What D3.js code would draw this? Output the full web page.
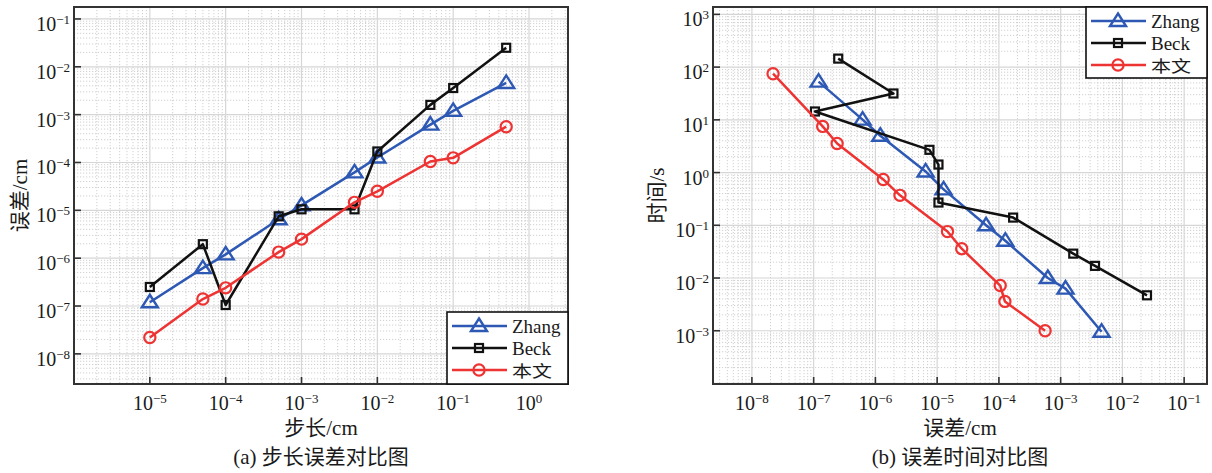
<!DOCTYPE html>
<html><head><meta charset="utf-8">
<script src="https://cdn.jsdelivr.net/npm/d3@7"></script>
<style>
body{margin:0;background:#fff}
text{font-family:"Liberation Serif","Times New Roman","Noto Sans CJK SC",serif;fill:#1a1a1a}
</style>
</head><body><svg id="c" width="1212" height="473"></svg>
<script>
// ---------- data ----------
const seriesNames = ["Zhang", "Beck", "本文"];
const stepSizes = [1e-5, 5e-5, 1e-4, 5e-4, 1e-3, 5e-3, 1e-2, 5e-2, 1e-1, 5e-1];
const zhangErr = [1.2e-7, 6.2e-7, 1.2e-6, 6.5e-6, 1.27e-5, 6.2e-5, 1.27e-4, 6.2e-4, 1.2e-3, 4.6e-3];
const beckErr  = [2.5e-7, 1.96e-6, 1.05e-7, 7.5e-6, 1.05e-5, 1.05e-5, 1.7e-4, 1.6e-3, 3.6e-3, 2.5e-2];
const oursErr  = [2.2e-8, 1.4e-7, 2.4e-7, 1.34e-6, 2.5e-6, 1.47e-5, 2.5e-5, 1.05e-4, 1.25e-4, 5.6e-4];
const zhangTime = [53, 10.1, 5.0, 1.05, 0.48, 0.10, 0.051, 0.010, 0.0063, 0.00096];
const beckTime  = [145, 31.6, 14.4, 2.7, 1.42, 0.27, 0.14, 0.029, 0.017, 0.0047];
const oursTime  = [75, 7.5, 3.55, 0.74, 0.37, 0.076, 0.036, 0.0072, 0.0036, 0.001];
const leftXTicks = [-5, -4, -3, -2, -1, 0];
const leftYTicks = [-8, -7, -6, -5, -4, -3, -2, -1];
const rightXTicks = [-8, -7, -6, -5, -4, -3, -2, -1];
const rightYTicks = [-3, -2, -1, 0, 1, 2, 3];

const colors = ["#2d58b4", "#111111", "#ee3333"];
const markers = ["tri", "sq", "circ"];

const svg = d3.select("#c");

function drawMarker(g, type, x, y, color) {
  if (type === "tri") {
    g.append("path").attr("d", `M${x},${y-7.5}L${x+8},${y+5}L${x-8},${y+5}Z`)
      .attr("fill", "none").attr("stroke", color).attr("stroke-width", 2.4).attr("stroke-linejoin", "miter");
  } else if (type === "sq") {
    g.append("rect").attr("x", x-4).attr("y", y-4).attr("width", 8).attr("height", 8)
      .attr("fill", "none").attr("stroke", color).attr("stroke-width", 2.2);
  } else {
    g.append("circle").attr("cx", x).attr("cy", y).attr("r", 5.6)
      .attr("fill", "none").attr("stroke", color).attr("stroke-width", 2.2);
  }
}
function expStr(e) { return e < 0 ? "\u2212" + (-e) : "" + e; }

function panel(cfg) {
  const {x0, x1, y0, y1, xDom, yDom, xTicks, yTicks, series, xLabel, yLabel, caption, legend, clipId} = cfg;
  const x = d3.scaleLog().domain(xDom).range([x0, x1]);
  const y = d3.scaleLog().domain(yDom).range([y1, y0]);
  const g = svg.append("g");
  g.append("clipPath").attr("id", clipId).append("rect")
    .attr("x", x0).attr("y", y0).attr("width", x1 - x0).attr("height", y1 - y0);
  const grid = g.append("g").attr("clip-path", `url(#${clipId})`);
  const lx = [Math.floor(Math.log10(xDom[0])), Math.ceil(Math.log10(xDom[1]))];
  const ly = [Math.floor(Math.log10(yDom[0])), Math.ceil(Math.log10(yDom[1]))];
  for (let e = lx[0]; e <= lx[1]; e++) for (let m = 2; m <= 9; m++) {
    const v = m * Math.pow(10, e);
    if (v <= xDom[0] || v >= xDom[1]) continue;
    grid.append("line").attr("x1", x(v)).attr("x2", x(v)).attr("y1", y0).attr("y2", y1)
      .attr("stroke", "#c4c4c4").attr("stroke-width", 0.8).attr("stroke-dasharray", "1.2,1.8");
  }
  for (let e = ly[0]; e <= ly[1]; e++) for (let m = 2; m <= 9; m++) {
    const v = m * Math.pow(10, e);
    if (v <= yDom[0] || v >= yDom[1]) continue;
    grid.append("line").attr("y1", y(v)).attr("y2", y(v)).attr("x1", x0).attr("x2", x1)
      .attr("stroke", "#c4c4c4").attr("stroke-width", 0.8).attr("stroke-dasharray", "1.2,1.8");
  }
  for (let e = lx[0]; e <= lx[1]; e++) {
    const v = Math.pow(10, e);
    if (v <= xDom[0] || v >= xDom[1]) continue;
    grid.append("line").attr("x1", x(v)).attr("x2", x(v)).attr("y1", y0).attr("y2", y1)
      .attr("stroke", "#d6d6d6").attr("stroke-width", 1.2);
  }
  for (let e = ly[0]; e <= ly[1]; e++) {
    const v = Math.pow(10, e);
    if (v <= yDom[0] || v >= yDom[1]) continue;
    grid.append("line").attr("y1", y(v)).attr("y2", y(v)).attr("x1", x0).attr("x2", x1)
      .attr("stroke", "#d6d6d6").attr("stroke-width", 1.2);
  }
  xTicks.forEach(e => {
    const px = x(Math.pow(10, e));
    g.append("line").attr("x1", px).attr("x2", px).attr("y1", y1).attr("y2", y1 - 7)
      .attr("stroke", "#333").attr("stroke-width", 1.6);
    const t = g.append("text").attr("x", px).attr("y", 410).attr("text-anchor", "middle").attr("font-size", 20);
    t.append("tspan").text("10");
    t.append("tspan").attr("dy", -7).attr("font-size", 13).text(expStr(e));
  });
  yTicks.forEach(e => {
    const py = y(Math.pow(10, e));
    g.append("line").attr("x1", x0).attr("x2", x0 + 7).attr("y1", py).attr("y2", py)
      .attr("stroke", "#333").attr("stroke-width", 1.6);
    const t = g.append("text").attr("x", x0 - 4).attr("y", py + 12).attr("text-anchor", "end").attr("font-size", 20);
    t.append("tspan").text("10");
    t.append("tspan").attr("dy", -7).attr("font-size", 13).text(expStr(e));
  });
  const line = d3.line().x(d => x(d[0])).y(d => y(d[1]));
  series.forEach((s, i) => {
    const pts = s.xs.map((v, k) => [v, s.ys[k]]);
    const sg = g.append("g").attr("clip-path", `url(#${clipId})`);
    sg.append("path").attr("d", line(pts)).attr("fill", "none").attr("stroke", colors[i])
      .attr("stroke-width", 2.5).attr("stroke-linejoin", "round");
    pts.forEach(p => drawMarker(sg, markers[i], x(p[0]), y(p[1]), colors[i]));
  });
  g.append("rect").attr("x", x0).attr("y", y0).attr("width", x1 - x0).attr("height", y1 - y0)
    .attr("fill", "none").attr("stroke", "#333").attr("stroke-width", 2);
  const L = legend;
  g.append("rect").attr("x", L.x).attr("y", L.y).attr("width", L.w).attr("height", L.h)
    .attr("fill", "#fff").attr("stroke", "#111").attr("stroke-width", 1.6);
  seriesNames.forEach((n, i) => {
    const cy = L.y + 14 + i * 22;
    g.append("line").attr("x1", L.x + 5).attr("x2", L.x + 60).attr("y1", cy).attr("y2", cy)
      .attr("stroke", colors[i]).attr("stroke-width", 2.5);
    drawMarker(g, markers[i], L.x + 32, cy, colors[i]);
    const isCJK = /[\u4e00-\u9fff]/.test(n);
    g.append("text").attr("x", L.x + 65).attr("y", cy + 7)
      .attr("font-size", isCJK ? 16 : 19).attr("textLength", isCJK ? 40 : null)
      .attr("lengthAdjust", "spacingAndGlyphs").text(n);
  });
  const cx = (x0 + x1) / 2, cyy = (y0 + y1) / 2;
  g.append("text").attr("x", cx).attr("y", 435).attr("text-anchor", "middle").attr("font-size", 21).text(xLabel);
  g.append("text").attr("transform", `translate(${cfg.yLabelX},${cyy}) rotate(-90)`)
    .attr("text-anchor", "middle").attr("font-size", 21).text(yLabel);
  g.append("text").attr("x", cx).attr("y", 464).attr("text-anchor", "middle").attr("font-size", 21).text(caption);
}

panel({
  x0: 74, x1: 568, y0: 7, y1: 384,
  xDom: [1e-6, Math.pow(10, 0.514)], yDom: [Math.pow(10, -8.63), Math.pow(10, -0.75)],
  xTicks: leftXTicks, yTicks: leftYTicks,
  series: [
    {xs: stepSizes, ys: zhangErr},
    {xs: stepSizes, ys: beckErr},
    {xs: stepSizes, ys: oursErr}
  ],
  xLabel: "步长/cm", yLabel: "误差/cm", caption: "(a) 步长误差对比图", yLabelX: 27,
  legend: {x: 447, y: 312, w: 121, h: 72}, clipId: "clipA"
});
panel({
  x0: 713, x1: 1207, y0: 7, y1: 384,
  xDom: [Math.pow(10, -8.63), Math.pow(10, -0.63)], yDom: [Math.pow(10, -4.01), Math.pow(10, 3.14)],
  xTicks: rightXTicks, yTicks: rightYTicks,
  series: [
    {xs: zhangErr, ys: zhangTime},
    {xs: beckErr, ys: beckTime},
    {xs: oursErr, ys: oursTime}
  ],
  xLabel: "误差/cm", yLabel: "时间/s", caption: "(b) 误差时间对比图", yLabelX: 664,
  legend: {x: 1086, y: 7, w: 121, h: 71}, clipId: "clipB"
});
</script>
</body></html>
